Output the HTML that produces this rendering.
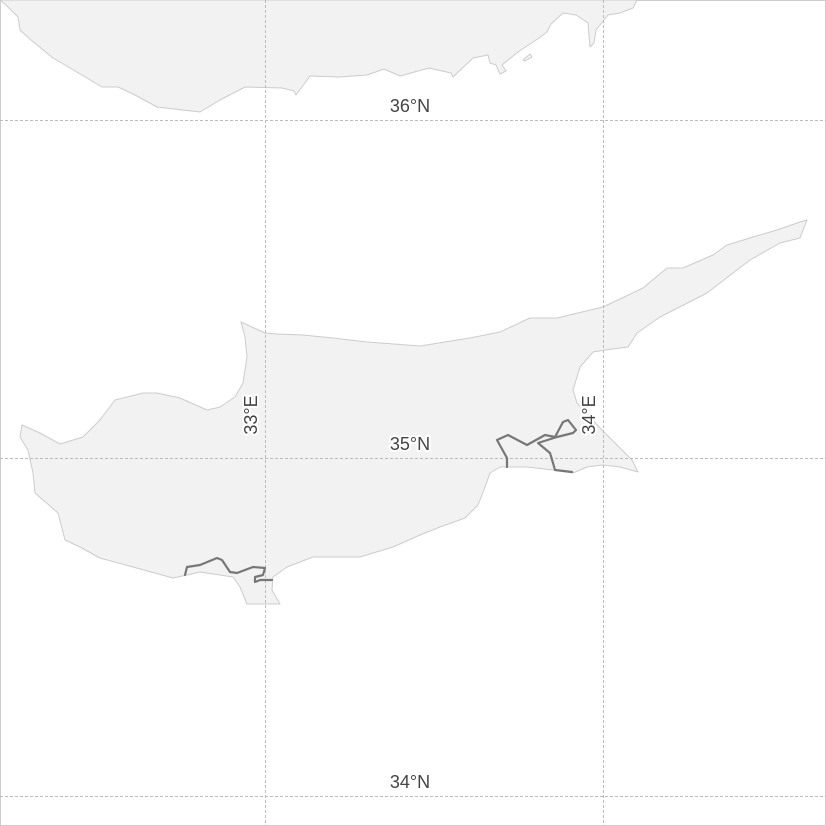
<!DOCTYPE html>
<html><head><meta charset="utf-8"><style>
html,body{margin:0;padding:0;background:#fff}
svg{display:block}
text{font-family:"Liberation Sans Narrow","Liberation Sans",sans-serif;font-size:18px;fill:#444}
.halo{stroke:#fff;stroke-width:4px;paint-order:stroke;stroke-linejoin:round}
path{stroke-linejoin:round;stroke-linecap:round}
</style></head><body>
<svg id="map" width="826" height="826" viewBox="0 0 826 826">
<rect x="0.5" y="0.5" width="825" height="825" fill="#fff" stroke="#ccc"/>
<path fill="#f2f2f2" stroke="#ccc" stroke-width="1" d="M0,0 L6,5 L18,17 L20,30 L31,40 L53,58 L65,65 L102,87 L118,87 L135,95 L157,107 L200,112 L220,100 L245,87 L282,88 L294,91 L296,95 L310,76 L339,77 L367,75 L384,69 L400,76 L429,68 L451,73 L453,77 L473,58 L488,55 L490,63 L496,65 L500,74 L506,71 L502,65 L518,52 L539,38 L547,32 L551,24 L563,13 L576,15 L588,23 L590,47 L594,43 L596,30 L608,15 L620,13 L633,8 L637,0 Z"/>
<path fill="#f2f2f2" stroke="#ccc" d="M523,60 L530,54 L532,57 L525,61 Z"/>
<path fill="#f2f2f2" stroke="#ccc" stroke-width="1" d="M241,322 L265,333 L277,334 L303,335 L333,338 L367,342 L420,346 L470,338 L500,332 L530,318 L557,318 L603,307 L643,288 L667,268 L683,268 L713,255 L727,245 L753,237 L777,230 L800,222 L807,220 L800,238 L780,243 L750,260 L733,273 L707,293 L660,317 L637,333 L628,347 L605,350 L593,352 L580,367 L573,390 L577,403 L602,430 L617,445 L632,460 L638,472 L620,467 L603,465 L587,467 L573,473 L553,470 L527,467 L500,467 L490,473 L485,487 L478,505 L465,518 L440,527 L420,535 L393,547 L360,557 L313,557 L287,567 L273,577 L272,590 L280,604 L247,604 L240,587 L233,577 L200,572 L187,575 L173,578 L133,567 L100,558 L80,547 L65,540 L58,513 L35,493 L33,473 L28,450 L20,437 L22,425 L40,433 L60,444 L83,437 L100,420 L115,400 L143,393 L157,393 L180,398 L207,410 L220,407 L235,397 L243,383 L247,357 L245,337 Z"/>
<g id="grid"></g>
<path fill="none" stroke="#777" stroke-width="2.2" d="M185,575 L187,567 L200,565 L217,558 L222,560 L230,572 L237,573 L253,567 L265,568 L263,575 L255,577 L255,582 L260,580 L272,580"/>
<path fill="none" stroke="#777" stroke-width="2.2" d="M507,467 L507,458 L497,440 L508,435 L527,445 L545,435 L555,437 L563,422 L568,420 L576,430 L573,433 L557,437 L538,443 L550,453 L553,463 L555,470 L572,472"/>
<g id="labels"></g>
</svg>
<script>
const lonTicks=[33,34];
const latTicks=[36,35,34];
const lonLabels=["33°E","34°E"];
const latLabels=["36°N","35°N","34°N"];
const px=338;
function xOf(lon){return 265+(lon-33)*px;}
function yOf(lat){return 458-(lat-35)*px;}
const NS="http://www.w3.org/2000/svg";
const g=document.getElementById('grid'),L=document.getElementById('labels');
lonTicks.forEach((v,i)=>{
  const l=document.createElementNS(NS,'line');
  
  
  const x=xOf(v)+0.5;
  l.setAttribute('x1',x);l.setAttribute('x2',x);l.setAttribute('y1',0);l.setAttribute('y2',826);
  l.setAttribute('stroke','#bbb');l.setAttribute('stroke-dasharray','3,2');
  g.appendChild(l);
  const t=document.createElementNS(NS,'text');
  
  
  t.setAttribute('class','halo');
  t.setAttribute('text-anchor','middle');
  t.setAttribute('transform','translate('+(xOf(v)-8)+',415) rotate(-90)');
  t.textContent=lonLabels[i];
  L.appendChild(t);
});
latTicks.forEach((v,i)=>{
  const l=document.createElementNS(NS,'line');
  
  
  const y=yOf(v)+0.5;
  l.setAttribute('x1',0);l.setAttribute('x2',826);l.setAttribute('y1',y);l.setAttribute('y2',y);
  l.setAttribute('stroke','#bbb');l.setAttribute('stroke-dasharray','3,2');
  g.appendChild(l);
  const t=document.createElementNS(NS,'text');
  
  
  t.setAttribute('class','halo');
  t.setAttribute('text-anchor','middle');
  t.setAttribute('x',410);t.setAttribute('y',yOf(v)-8);
  t.textContent=latLabels[i];
  L.appendChild(t);
});
</script>
</body></html>
